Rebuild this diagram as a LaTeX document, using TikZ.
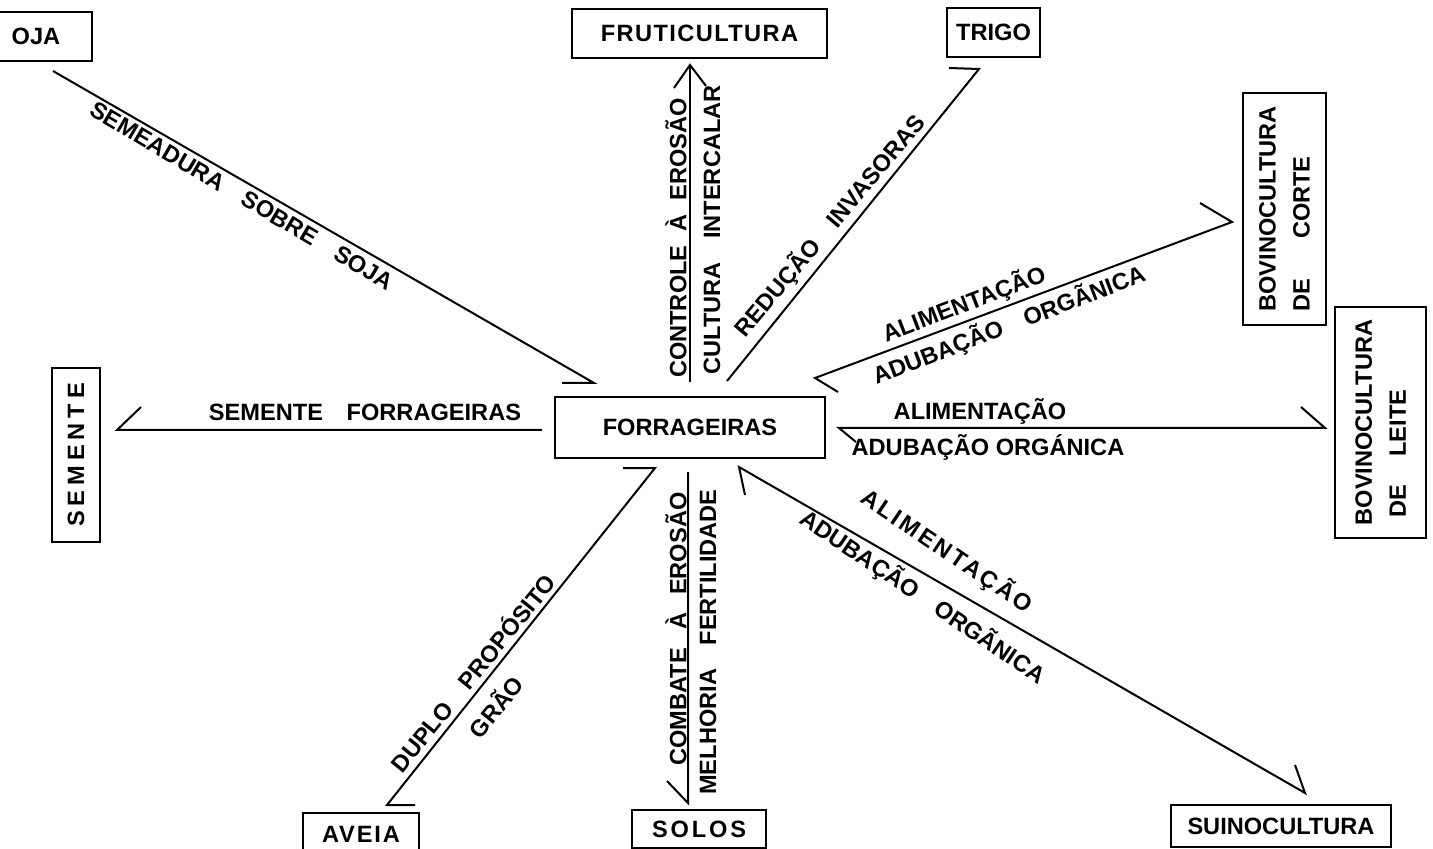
\documentclass[tikz,border=0pt]{standalone}
\usepackage{fontspec}
\setmainfont{Liberation Sans}
\usetikzlibrary{calc}
\newcommand{\lblfont}{\bfseries\fontsize{11.8}{17}\selectfont}
\begin{document}
\begin{tikzpicture}[x=0.5pt,y=-0.5pt,
  box/.style={draw, line width=1.2pt, inner sep=0pt, font=\lblfont},
  lbl/.style={inner sep=0pt, font=\lblfont},
  conn/.style={line width=1pt, line join=miter}]
\useasboundingbox (0,0) rectangle (1433,849);

% ---------- boxes ----------
\node[box, minimum width=56pt, minimum height=24.5pt] (soja) at (36,36.5) {OJA};
\node[box, minimum width=127.5pt, minimum height=24.5pt] (fruti) at (699.5,33.5) {\addfontfeatures{LetterSpace=6}FRUTICULTURA};
\node[box, minimum width=46.5pt, minimum height=24.5pt] (trigo) at (993.5,32.5) {TRIGO};
\node[box, rotate=90, minimum width=116pt, minimum height=41.5pt, align=left] (corte) at (1284.5,209) {BOVINOCULTURA\\DE\hspace{20pt}CORTE};
\node[box, rotate=90, minimum width=115.5pt, minimum height=45.5pt, align=left] (leite) at (1380.5,422.5) {BOVINOCULTURA\\\hspace{4pt}DE\hspace{14pt}LEITE};
\node[box, rotate=90, minimum width=87pt, minimum height=24pt] (semente) at (76,455) {\addfontfeatures{LetterSpace=21}SEMENTE};
\node[box, minimum width=135pt, minimum height=30.5pt] (forr) at (690,427.5) {FORRAGEIRAS};
\node[box, minimum width=58pt, minimum height=21pt] (aveia) at (361,834) {\addfontfeatures{LetterSpace=8}AVEIA};
\node[box, minimum width=67pt, minimum height=19pt] (solos) at (699,829) {\addfontfeatures{LetterSpace=12}SOLOS};
\node[box, minimum width=110pt, minimum height=21pt] (suino) at (1281,826) {SUINOCULTURA};

% ---------- connector end points ----------
\coordinate (sojaA) at (53,71);     \coordinate (sojaB) at (594,383);
\coordinate (semA) at (542,430);    \coordinate (semB) at (117,430);
\coordinate (fruA) at (690,382);    \coordinate (fruB) at (690,65);
\coordinate (triA) at (727,381);    \coordinate (triB) at (979,69);
\coordinate (corA) at (815,378);    \coordinate (corB) at (1232,222);
\coordinate (leiA) at (839,428);    \coordinate (leiB) at (1325,428);
\coordinate (aveA) at (655,468);    \coordinate (aveB) at (387,805);
\coordinate (solA) at (688,472);    \coordinate (solB) at (688,803);
\coordinate (suiA) at (739,467);    \coordinate (suiB) at (1305,793);

% ---------- connectors ----------
\draw[conn] (sojaA) -- (sojaB) -- ++(-32,0);
\draw[conn] (semA) -- (semB) -- ++(24,-23);
\draw[conn] (fruA) -- (fruB);
\draw[conn] (fruB) ++(-16,23) -- (fruB) -- ++(16,21);
\draw[conn] (triA) -- (triB) -- ++(-30,-1);
\draw[conn] (corA) ++(23,14) -- (corA) -- (corB) -- ++(-32,-19);
\draw[conn] (leiA) ++(17,14) -- (leiA) -- (leiB) -- ++(-24,-21);
\draw[conn] (aveA) ++(-32,0) -- (aveA) -- (aveB) -- ++(28,0);
\draw[conn] (solA) -- (solB) -- ++(-21,-22);
\draw[conn] (suiA) ++(6,28) -- (suiA) -- (suiB) -- ++(-10,-28);

% ---------- labels ----------
\node[lbl, rotate=-30.5] (lsoja) at (242,196) {SEMEADURA\quad SOBRE\quad SOJA};
\node[lbl] (lsem) at (365,412) {SEMENTE\quad FORRAGEIRAS};
\node[lbl, rotate=90] (lfru1) at (676,238) {CONTROLE\hspace{7pt}À\hspace{7pt}EROSÃO};
\node[lbl, rotate=90] (lfru2) at (712,230) {CULTURA\quad INTERCALAR};
\node[lbl, rotate=50] (ltri) at (830,226) {REDUÇÃO\quad INVASORAS};
\node[lbl, rotate=21] (lcor1) at (964,304) {ALIMENTAÇÃO};
\node[lbl, rotate=21] (lcor2) at (1009,325) {ADUBAÇÃO\quad ORGÃNICA};
\node[lbl] (llei1) at (980,411) {ALIMENTAÇÃO};
\node[lbl] (llei2) at (988,447) {ADUBAÇÃO ORGÁNICA};
\node[lbl, rotate=51] (lave1) at (472,672) {DUPLO\quad PROPÓSITO};
\node[lbl, rotate=51] (lave2) at (495,706) {GRÃO};
\node[lbl, rotate=90] (lsol1) at (676,629) {COMBATE\hspace{9pt}À\hspace{9pt}EROSÃO};
\node[lbl, rotate=90] (lsol2) at (708,642) {MELHORIA\quad FERTILIDADE};
\node[lbl, rotate=-34] (lsui1) at (947,551) {\addfontfeatures{LetterSpace=12}ALIMENTAÇÃO};
\node[lbl, rotate=-34] (lsui2) at (923,597) {ADUBAÇÃO\quad ORGÃNICA};
\end{tikzpicture}
\end{document}
